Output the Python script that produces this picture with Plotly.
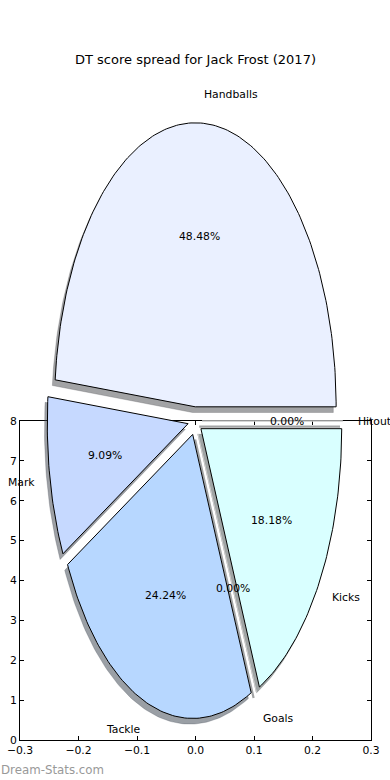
import numpy as np
import plotly.graph_objects as go

# ---- data ----
labels = ["Hitout", "Handballs", "Mark", "Tackle", "Goals", "Kicks"]
dt_points = [0, 16, 3, 8, 0, 6]
colors = ["#eef4ff", "#eaf0ff", "#c6d9ff", "#b7d7ff", "#e6f7ff", "#d9ffff"]
explode = [0.05, 0.05, 0.05, 0.05, 0.05, 0.05]
x_ticks = [-0.3, -0.2, -0.1, 0.0, 0.1, 0.2, 0.3]
y_ticks = [0, 1, 2, 3, 4, 5, 6, 7, 8]
title = "DT score spread for Jack Frost (2017)"
watermark = "Dream-Stats.com"

W, H = 390, 780
FONT = "DejaVu Sans"
fs = 10.8


def hex2rgb(h):
    h = h.lstrip("#")
    return tuple(int(h[i:i + 2], 16) for i in (0, 2, 4))


fig = go.Figure()

# empty trace so the framed axes are drawn
fig.add_trace(go.Scatter(x=[None], y=[None], mode="markers", xaxis="x", yaxis="y",
                         hoverinfo="skip", showlegend=False))

total = float(sum(dt_points))
fracs = [v / total for v in dt_points]

wedges = []
theta = 0.0
for lab, f, col, e in zip(labels, fracs, colors, explode):
    t1 = theta
    t2 = theta + 360.0 * f
    theta = t2
    tm = np.radians(0.5 * (t1 + t2))
    cx, cy = e * np.cos(tm), e * np.sin(tm)
    n = max(2, int(abs(t2 - t1)) + 2)
    ang = np.radians(np.linspace(t1, t2, n))
    xs = np.concatenate([[cx], cx + np.cos(ang), [cx]])
    ys = np.concatenate([[cy], cy + np.sin(ang), [cy]])
    wedges.append(dict(lab=lab, f=f, col=col, cx=cx, cy=cy, tm=tm, xs=xs, ys=ys))

# shadows (below all wedges)
for w in wedges:
    r, g, b = hex2rgb(w["col"])
    sc = "rgba(%d,%d,%d,0.5)" % (int(0.3 * r), int(0.3 * g), int(0.3 * b))
    zero = w["f"] == 0
    fig.add_trace(go.Scatter(
        x=w["xs"] - 0.02, y=w["ys"] - 0.02, mode="lines",
        fill="toself", fillcolor=sc,
        line=dict(color=sc, width=2.2 if zero else 0.5),
        xaxis="x2", yaxis="y2", hoverinfo="skip", showlegend=False))

# wedges
for w in wedges:
    zero = w["f"] == 0
    fig.add_trace(go.Scatter(
        x=w["xs"], y=w["ys"], mode="lines",
        fill="toself", fillcolor=w["col"],
        line=dict(color="#c8c8c8" if zero else "black", width=1),
        xaxis="x2", yaxis="y2", name=w["lab"], showlegend=False))

annotations = []
for w in wedges:
    xt = w["cx"] + 1.1 * np.cos(w["tm"])
    yt = w["cy"] + 1.1 * np.sin(w["tm"])
    annotations.append(dict(
        x=xt, y=yt, xref="x2", yref="y2", text=w["lab"], showarrow=False,
        xanchor="left" if xt > 0 else "right", yanchor="middle", borderpad=0,
        font=dict(family=FONT, size=fs, color="black")))
    xp = w["cx"] + 0.6 * np.cos(w["tm"])
    yp = w["cy"] + 0.6 * np.sin(w["tm"])
    annotations.append(dict(
        x=xp, y=yp, xref="x2", yref="y2", text="%1.2f%%" % (100 * w["f"]),
        showarrow=False, xanchor="center", yanchor="middle", borderpad=0,
        font=dict(family=FONT, size=fs, color="black")))

annotations.append(dict(
    x=0.5, y=(H - 60) / H, xref="paper", yref="paper", text=title,
    showarrow=False, xanchor="center", yanchor="middle",
    font=dict(family=FONT, size=13, color="black")))
annotations.append(dict(
    x=0.0, y=(H - 770) / H, xref="paper", yref="paper", text=watermark,
    showarrow=False, xanchor="left", yanchor="middle", borderpad=0,
    font=dict(family=FONT, size=11.8, color="#999999")))

axis_common = dict(
    showgrid=False, zeroline=False, showline=True, linecolor="black",
    linewidth=1, mirror="ticks", ticks="inside", ticklen=4, tickwidth=1,
    tickcolor="black", tickfont=dict(family=FONT, size=fs, color="black"),
    automargin=False, fixedrange=True)

fig.update_layout(
    width=W, height=H,
    margin=dict(l=0, r=0, t=0, b=0),
    paper_bgcolor="white", plot_bgcolor="rgba(0,0,0,0)",
    showlegend=False,
    xaxis=dict(domain=[20 / W, 371 / W], range=[-0.3, 0.3], tickvals=x_ticks,
               tickformat=".1f", anchor="y", **axis_common),
    yaxis=dict(domain=[(H - 740) / H, (H - 421) / H], range=[0, 8],
               tickvals=y_ticks, anchor="x", **axis_common),
    xaxis2=dict(domain=[19 / W, 371 / W], range=[-1.25, 1.25], visible=False,
                anchor="y2", fixedrange=True),
    yaxis2=dict(domain=[(H - 776) / H, (H - 66) / H], range=[-1.25, 1.25],
                visible=False, anchor="x2", fixedrange=True),
    annotations=annotations,
)

fig.write_html("out.html", config={"displayModeBar": False},
               post_script="document.body.style.margin='0';document.body.style.padding='0';")
